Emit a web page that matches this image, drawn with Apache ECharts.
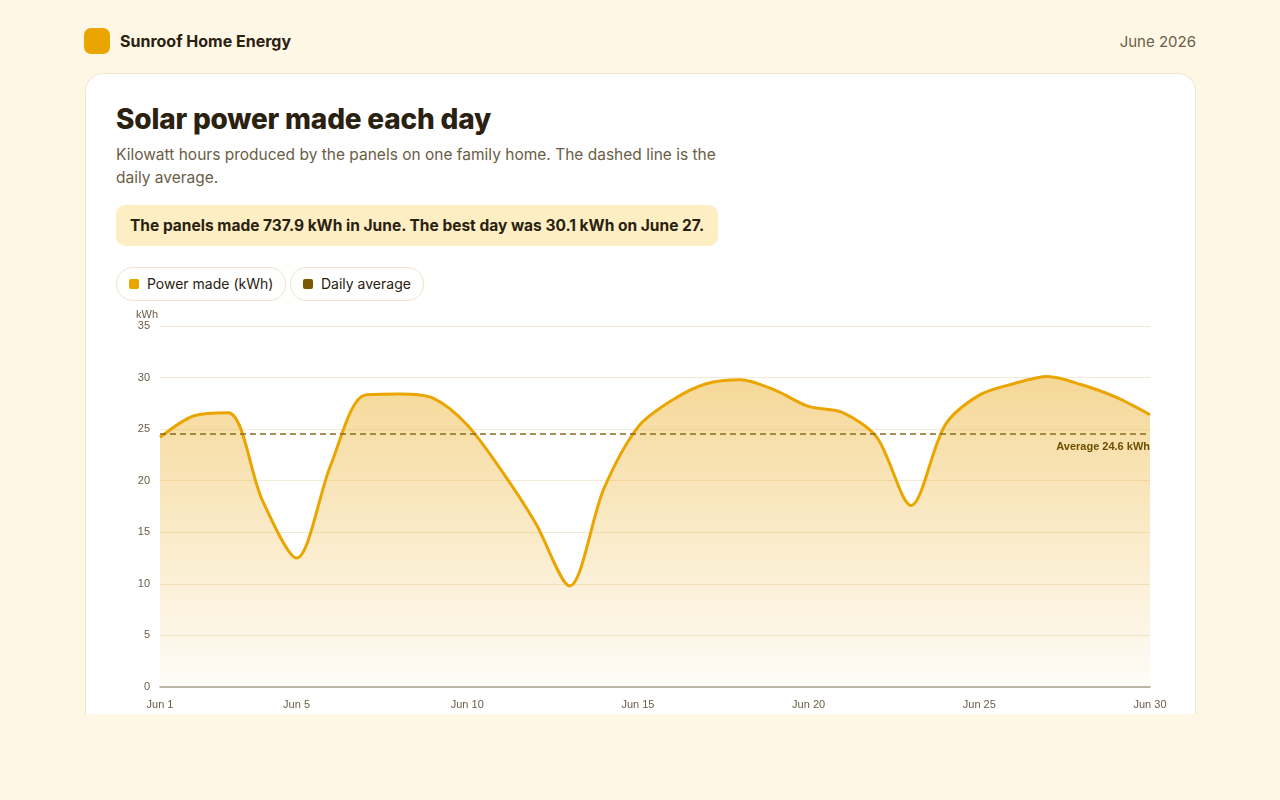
<!DOCTYPE html>
<html>
<head>
<meta charset="utf-8">
<title>Solar power made each day</title>
<script src="https://cdn.jsdelivr.net/npm/echarts@6/dist/echarts.min.js"></script>
<style>
  body { margin: 0; background: #fff7e6; font-family: Inter, "Noto Sans", sans-serif; width: 1280px; height: 800px; overflow: hidden; position: relative; }
  .logo { position: absolute; left: 84px; top: 28px; width: 26px; height: 26px; border-radius: 7px; background: #eaa500; }
  .brand { position: absolute; left: 120px; top: 31px; font-size: 16px; font-weight: 700; color: #2a2110; }
  .date { position: absolute; right: 84px; top: 32px; font-size: 15px; color: #6b5d45; }
  .card { position: absolute; left: 85px; top: 73px; width: 1109px; height: 640px; background: #fff; border: 1px solid #f3e6c8; border-bottom: none; border-radius: 18px 18px 0 0; overflow: hidden; }
  h1 { position: absolute; left: 30px; top: 28px; margin: 0; font-size: 28px; font-weight: 800; color: #2a2110; letter-spacing: -0.2px; }
  .sub { position: absolute; left: 30px; top: 69px; width: 620px; font-size: 15.5px; line-height: 23px; color: #6b5d45; }
  .note { position: absolute; left: 30px; top: 131px; padding: 11px 14px; background: #fdeec4; border-radius: 9px; font-size: 15.5px; font-weight: 700; color: #2a2110; }
  .chip { position: absolute; top: 193px; height: 32px; border: 1px solid #f0e4cc; border-radius: 16px; font-size: 14px; color: #2a2110; line-height: 32px; padding: 0 12px 0 30px; }
  .chip i { position: absolute; left: 12px; top: 11px; width: 10px; height: 10px; border-radius: 2px; }
  #chart { position: absolute; left: 0; top: 227px; width: 1109px; height: 412px; }
</style>
</head>
<body>
<div class="logo"></div>
<div class="brand">Sunroof Home Energy</div>
<div class="date">June 2026</div>
<div class="card">
  <h1>Solar power made each day</h1>
  <div class="sub">Kilowatt hours produced by the panels on one family home. The dashed line is the daily average.</div>
  <div class="note">The panels made 737.9 kWh in June. The best day was 30.1 kWh on June 27.</div>
  <div class="chip" style="left:30px"><i style="background:#eaa500"></i>Power made (kWh)</div>
  <div class="chip" style="left:204px"><i style="background:#7a5a00"></i>Daily average</div>
  <div id="chart"></div>
</div>
<script type="text/javascript">
  var days = [];
  for (var d = 1; d <= 30; d++) days.push('Jun ' + d);
  var power = [24.2, 26.3, 26.6, 18.1, 12.5, 21.5, 28.3, 28.4, 28.0, 25.4,
               21.0, 15.9, 9.8, 19.2, 25.2, 27.8, 29.4, 29.8, 28.8, 27.2,
               26.6, 24.2, 17.6, 25.4, 28.3, 29.4, 30.1, 29.3, 28.1, 26.4];
  var average = 24.6;
  var labelDays = [0, 4, 9, 14, 19, 24, 29];

  var myChart = echarts.init(document.getElementById('chart'));
  myChart.setOption({
    animation: false,
    grid: { left: 74, right: 45, top: 25, bottom: 26 },
    xAxis: {
      type: 'category',
      data: days,
      boundaryGap: false,
      axisLine: { lineStyle: { color: '#a8a090', width: 1.5 } },
      axisTick: { show: false },
      axisLabel: {
        color: '#6b5d45', fontSize: 11, margin: 12,
        interval: function (i) { return labelDays.indexOf(i) >= 0; }
      }
    },
    yAxis: {
      type: 'value',
      min: 0, max: 35, interval: 5,
      name: 'kWh',
      nameGap: 4,
      nameTextStyle: { color: '#6b5d45', fontSize: 11, align: 'right', padding: [0, 2, -2, 0] },
      axisLabel: { color: '#6b5d45', fontSize: 11, margin: 10 },
      splitLine: { lineStyle: { color: '#f3ead6' } }
    },
    series: [{
      name: 'Power made (kWh)',
      type: 'line',
      data: power,
      smooth: 0.3,
      symbol: 'none',
      lineStyle: { color: '#eaa500', width: 3 },
      areaStyle: {
        color: new echarts.graphic.LinearGradient(0, 0, 0, 1, [
          { offset: 0, color: 'rgba(236,178,50,0.72)' },
          { offset: 1, color: 'rgba(236,178,50,0.05)' }
        ])
      },
      markLine: {
        silent: true,
        symbol: 'none',
        lineStyle: { color: '#8a6a20', type: [6, 4], width: 1.5 },
        label: {
          position: 'insideEndBottom',
          formatter: 'Average ' + average + ' kWh',
          color: '#6b5000', fontSize: 11, fontWeight: 'bold', distance: [0, 8]
        },
        data: [{ yAxis: average }]
      }
    }]
  });
</script>
</body>
</html>
